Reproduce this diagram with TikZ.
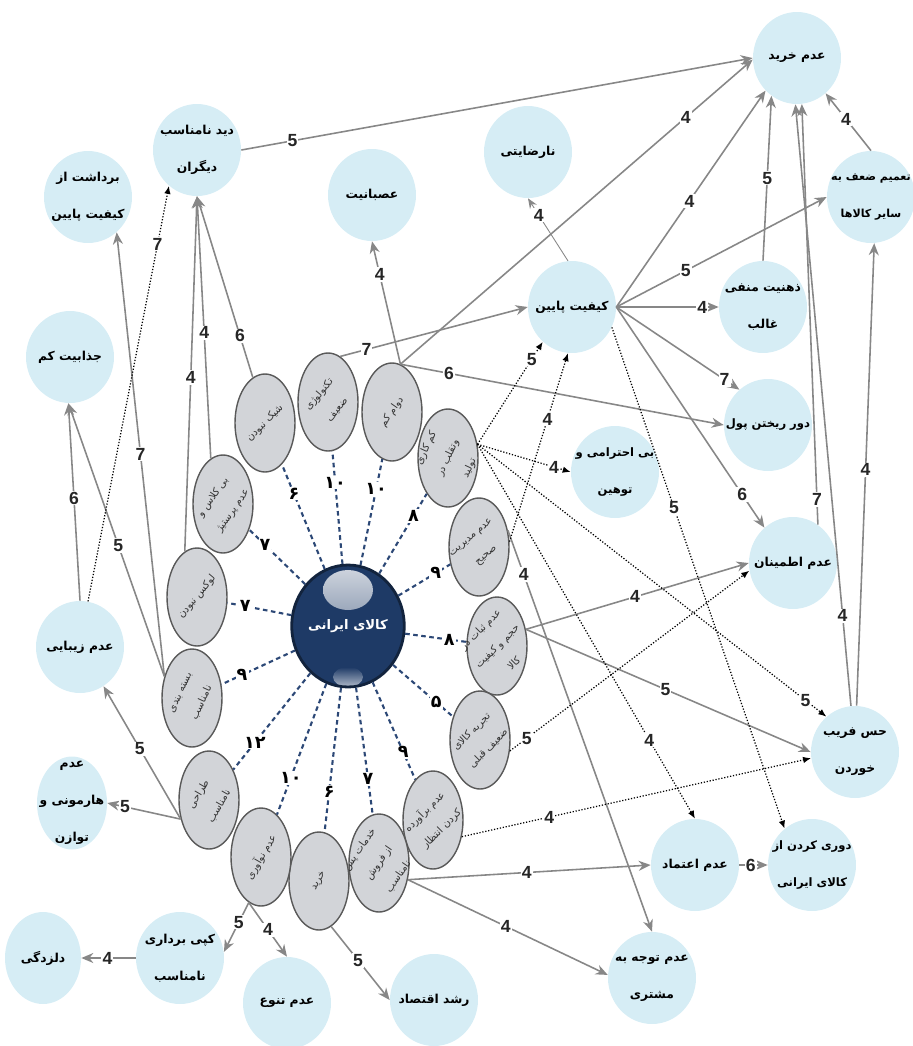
\documentclass[tikz,border=0pt]{standalone}
\usepackage{fontspec}
\setmainfont{Liberation Sans}
\newfontfamily\fafont[Script=Arabic]{DejaVu Sans}
\TeXXeTstate=1
\usetikzlibrary{arrows.meta,shapes.geometric}
\definecolor{skyfill}{RGB}{214,237,245}
\definecolor{grayfill}{RGB}{210,212,216}
\definecolor{navyc}{RGB}{30,58,102}
\definecolor{spokec}{RGB}{44,72,118}
\definecolor{linec}{RGB}{135,135,135}
\tikzstyle{effect}=[ellipse, fill=skyfill, minimum width=1.76cm, minimum height=1.84cm, inner sep=-12pt, align=center, font=\fafont\bfseries\fontsize{7}{21}\selectfont]
\tikzstyle{cause}=[ellipse, fill=grayfill, draw=black!65, line width=0.8pt, minimum width=1.2cm, minimum height=1.96cm, inner sep=0pt]
\tikzstyle{causetext}=[align=center, inner sep=0pt, text=black!80, font=\fafont\fontsize{5.8}{13.5}\selectfont]
\tikzstyle{core}=[ellipse, fill=navyc, draw=navyc!60!black, line width=1.6pt, minimum width=1.52cm, minimum height=2.44cm, inner sep=0pt, text=white, font=\fafont\bfseries\fontsize{7.5}{9}\selectfont,
  path picture={
    \shade[top color=white!80!navyc, bottom color=navyc!85] ([yshift=0.72cm]path picture bounding box.center) ellipse (0.5cm and 0.4cm);
    \shade[top color=navyc, bottom color=white!65!navyc] ([yshift=-1.02cm]path picture bounding box.center) ellipse (0.3cm and 0.2cm);}]
\tikzstyle{arrow}=[draw=linec, line width=0.9pt, ->, >={Stealth[length=2.4mm, width=2mm]}]
\tikzstyle{thinarrow}=[draw=linec, line width=0.5pt, ->, >={Stealth[length=2mm, width=1.6mm]}]
\tikzstyle{hint}=[draw=black, densely dotted, line width=0.7pt, ->, >={Latex[length=1.6mm, width=1.3mm]}]
\tikzstyle{spoke}=[draw=spokec, line width=1.2pt, dash pattern=on 2.6pt off 2pt]
\tikzstyle{num}=[fill=white, inner sep=0.6pt, text=black!85, font=\bfseries\fontsize{10}{10}\selectfont]
\tikzstyle{spokenum}=[fill=white, inner sep=0.6pt, font=\fafont\bfseries\fontsize{10}{10}\selectfont]

\begin{document}
\begin{tikzpicture}[x=0.02cm, y=-0.02cm]
  \useasboundingbox (0,0) rectangle (913,1046);
  \begin{scope}
    \node (nobuy) at (797, 58)[effect] {\beginR عدم خرید\endR};
    \node (badview) at (197, 150)[effect] {\beginR دید نامناسب\endR\\\beginR دیگران\endR};
    \node (lowqimp) at (88, 197)[effect] {\beginR برداشت از\endR\\\beginR کیفیت پایین\endR};
    \node (anger) at (372, 195)[effect] {\beginR عصبانیت\endR};
    \node (dissat) at (528, 152)[effect] {\beginR نارضایتی\endR};
    \node (general) at (871, 197)[effect, font=\fafont\bfseries\fontsize{6.3}{21}\selectfont] {\beginR تعمیم ضعف به\endR\\\beginR سایر کالاها\endR};
    \node (lowq) at (572, 307)[effect] {\beginR کیفیت پایین\endR};
    \node (negmind) at (763, 307)[effect] {\beginR ذهنیت منفی\endR\\\beginR غالب\endR};
    \node (lowattr) at (70, 357)[effect] {\beginR جذابیت کم\endR};
    \node (waste) at (768, 425)[effect, font=\fafont\bfseries\fontsize{6.6}{21}\selectfont] {\beginR دور ریختن پول\endR};
    \node (insult) at (615, 472)[effect, font=\fafont\bfseries\fontsize{6.6}{21}\selectfont] {\beginR بی احترامی و\endR\\\beginR توهین\endR};
    \node (unsure) at (793, 563)[effect] {\beginR عدم اطمینان\endR};
    \node (ugly) at (80, 647)[effect] {\beginR عدم زیبایی\endR};
    \node (cheated) at (855, 752)[effect] {\beginR حس فریب\endR\\\beginR خوردن\endR};
    \node (harmony) at (72, 803)[effect, minimum width=1.4cm, minimum height=1.86cm] {\beginR عدم\endR\\\beginR هارمونی و\endR\\\beginR توازن\endR};
    \node (distrust) at (695, 865)[effect] {\beginR عدم اعتماد\endR};
    \node (avoid) at (812, 865)[effect, font=\fafont\bfseries\fontsize{6.6}{21}\selectfont] {\beginR دوری کردن از\endR\\\beginR کالای ایرانی\endR};
    \node (neglect) at (652, 978)[effect] {\beginR عدم توجه به\endR\\\beginR مشتری\endR};
    \node (copy) at (180, 958)[effect] {\beginR کپی برداری\endR\\\beginR نامناسب\endR};
    \node (bored) at (43, 958)[effect, minimum width=1.52cm] {\beginR دلزدگی\endR};
    \node (novar) at (287, 1003)[effect] {\beginR عدم تنوع\endR};
    \node (growth) at (434, 1000)[effect] {\beginR رشد اقتصاد\endR};
  \end{scope}
  \begin{scope}
    \node (iran) at (348, 626)[core] {\beginR کالای ایرانی\endR};
    \node (shik) at (265, 423)[cause, label={[causetext, rotate=45]center:{\beginR شیک نبودن\endR}}] {};
    \node (tech) at (328, 402)[cause, label={[causetext, rotate=50]center:{\beginR تکنولوژی\endR\\\beginR ضعیف\endR}}] {};
    \node (dur) at (392, 412)[cause, label={[causetext, rotate=55]center:{\beginR دوام کم\endR}}] {};
    \node (fraud) at (448, 458)[cause, label={[causetext, rotate=65]center:{\beginR کم کاری\endR\\\beginR وتقلب در\endR\\\beginR تولید\endR}}] {};
    \node (mgmt) at (479, 547)[cause, label={[causetext, rotate=40]center:{\beginR عدم مدیریت\endR\\\beginR صحیح\endR}}] {};
    \node (instab) at (497, 646)[cause, label={[causetext, rotate=45]center:{\beginR عدم ثبات در\endR\\\beginR حجم و کیفیت\endR\\\beginR کالا\endR}}] {};
    \node (exper) at (480, 740)[cause, label={[causetext, rotate=45]center:{\beginR تجربه کالای\endR\\\beginR ضعیف قبلی\endR}}] {};
    \node (expect) at (433, 820)[cause, label={[causetext, rotate=45]center:{\beginR عدم برآورده\endR\\\beginR کردن انتظار\endR}}] {};
    \node (after) at (379, 863)[cause, label={[causetext, rotate=55]center:{\beginR خدمات پس\endR\\\beginR از فروش\endR\\\beginR نامناسب\endR}}] {};
    \node (buy) at (319, 881)[cause, label={[causetext, rotate=60]center:{\beginR خرید\endR}}] {};
    \node (innov) at (261, 857)[cause, label={[causetext, rotate=60]center:{\beginR عدم نوآوری\endR}}] {};
    \node (design) at (209, 800)[cause, label={[causetext, rotate=60]center:{\beginR طراحی\endR\\\beginR نامناسب\endR}}] {};
    \node (pack) at (192, 698)[cause, label={[causetext, rotate=65]center:{\beginR بسته بندی\endR\\\beginR نامناسب\endR}}] {};
    \node (lux) at (197, 597)[cause, label={[causetext, rotate=50]center:{\beginR لوکس نبودن\endR}}] {};
    \node (class) at (223, 504)[cause, label={[causetext, rotate=55]center:{\beginR بی کلاس و\endR\\\beginR عدم پرستیژ\endR}}] {};
  \end{scope}
  \begin{scope}
    \path (iran) edge [spoke] node[spokenum, pos=0.72] {۶} (shik);
    \path (iran) edge [spoke] node[spokenum, pos=0.72] {۱۰} (tech);
    \path (iran) edge [spoke] node[spokenum, pos=0.72] {۱۰} (dur);
    \path (iran) edge [spoke] node[spokenum, pos=0.72] {۸} (fraud);
    \path (iran) edge [spoke] node[spokenum, pos=0.72] {۹} (mgmt);
    \path (iran) edge [spoke] node[spokenum, pos=0.72] {۸} (instab);
    \path (iran) edge [spoke] node[spokenum, pos=0.72] {۵} (exper);
    \path (iran) edge [spoke] node[spokenum, pos=0.72] {۹} (expect);
    \path (iran) edge [spoke] node[spokenum, pos=0.72] {۷} (after);
    \path (iran) edge [spoke] node[spokenum, pos=0.72] {۶} (buy);
    \path (iran) edge [spoke] node[spokenum, pos=0.72] {۱۰} (innov);
    \path (iran) edge [spoke] node[spokenum, pos=0.72] {۱۲} (design);
    \path (iran) edge [spoke] node[spokenum, pos=0.72] {۹} (pack);
    \path (iran) edge [spoke] node[spokenum, pos=0.72] {۷} (lux);
    \path (iran) edge [spoke] node[spokenum, pos=0.72] {۷} (class);
  \end{scope}
  \begin{scope}
    \path (badview.east) edge [arrow] node[num, pos=0.1] {5} (nobuy.west);
    \path (dur.80) edge [arrow] node[num, pos=0.81] {4} (nobuy.182);
    \path (tech.75) edge [arrow] node[num, pos=0.14] {7} (lowq.west);
    \path (dur.80) edge [arrow] node[num, pos=0.15] {6} (waste.west);
    \path (dur.80) edge [arrow] node[num, pos=0.73] {4} (anger.south);
    \path (lowq.east) edge [arrow] node[num, pos=0.49] {4} (nobuy.226);
    \path (negmind.north) edge [arrow] node[num, pos=0.5] {5} (nobuy.236);
    \path (general.north) edge [arrow] node[num, pos=0.55] {4} (nobuy.309);
    \path (lowq.east) edge [arrow] node[num, pos=0.33] {5} (general.west);
    \path (lowq.east) edge [arrow] node[num, pos=0.84] {4} (negmind.west);
    \path (lowq.east) edge [arrow] node[num, pos=0.88] {7} (waste.129);
    \path (lowq.east) edge [arrow] node[num, pos=0.85] {6} (unsure.129);
    \path (lowq.95) edge [thinarrow] node[num, pos=0.73] {4} (dissat.south);
    \path (pack.142) edge [arrow] node[num, pos=0.48] {5} (lowattr.268);
    \path (pack.142) edge [arrow] node[num, pos=0.5] {7} (lowqimp.309);
    \path (ugly.north) edge [arrow] node[num, pos=0.52] {6} (lowattr.268);
    \path (shik.105) edge [arrow] node[num, pos=0.23] {6} (badview.south);
    \path (class.105) edge [arrow] node[num, pos=0.48] {4} (badview.south);
    \path (lux.105) edge [arrow] node[num, pos=0.49] {4} (badview.south);
    \path (design.214) edge [arrow] node[num, pos=0.53] {5} (ugly.301);
    \path (design.214) edge [arrow] node[num, pos=0.76] {5} (harmony.east);
    \path (innov.255) edge [arrow] node[num, pos=0.4] {5} (copy.8);
    \path (innov.255) edge [arrow] node[num, pos=0.5] {4} (novar.north);
    \path (copy.west) edge [arrow] node[num, pos=0.52] {4} (bored.east);
    \path (buy.285) edge [arrow] node[num, pos=0.46] {5} (growth.west);
    \path (after.330) edge [arrow] node[num, pos=0.49] {4} (distrust.west);
    \path (after.330) edge [arrow] node[num, pos=0.49] {4} (neglect.176);
    \path (mgmt.30) edge [arrow] node[num, pos=0.11] {4} (neglect.north);
    \path (instab.30) edge [arrow] node[num, pos=0.49] {4} (unsure.west);
    \path (instab.30) edge [arrow] node[num, pos=0.49] {5} (cheated.west);
    \path (distrust.east) edge [arrow] node[num, pos=0.4] {6} (avoid.west);
    \path (cheated.88) edge [arrow] node[num, pos=0.51] {4} (general.274);
    \path (cheated.95) edge [arrow] node[num, pos=0.15] {4} (nobuy.268);
    \path (unsure.57) edge [arrow] node[num, pos=0.06] {7} (nobuy.276);
  \end{scope}
  \begin{scope}
    \path (fraud.25) edge [hint] node[num, pos=0.83] {5} (lowq.230);
    \path (fraud.25) edge [hint] node[num, pos=0.82] {4} (insult.west);
    \path (fraud.25) edge [hint] node[num, pos=0.94] {5} (cheated.129);
    \path (fraud.25) edge [hint] node[num, pos=0.79] {4} (distrust.north);
    \path (mgmt.10) edge [hint] node[num, pos=0.65] {4} (lowq.265);
    \path (exper.340) edge [hint] node[num, pos=0.07] {5} (unsure.190);
    \path (expect.330) edge [hint] node[num, pos=0.25] {4} (cheated.188);
    \path (lowq.333) edge [hint] node[num, pos=0.36] {5} (avoid.127);
    \path (ugly.80) edge [hint] node[num, pos=0.86] {7} (badview.232);
  \end{scope}
\end{tikzpicture}
\end{document}
